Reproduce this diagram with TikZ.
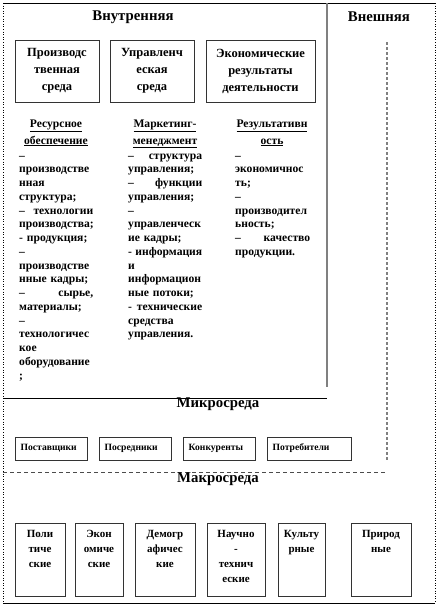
\documentclass[tikz,border=0pt]{standalone}
\usepackage{fontspec}
\setmainfont{Liberation Serif}
\hyphenpenalty=10000
\exhyphenpenalty=10000
\begin{document}
\begin{tikzpicture}[x=1pt,y=-1pt,
  box/.style={draw=black!80, line width=1pt, inner sep=0pt},
  bigtitle/.style={font=\bfseries\fontsize{14.8}{17}\selectfont, inner sep=0pt},
  toplbl/.style={font=\bfseries\fontsize{12.5}{17}\selectfont, align=center},
  hd/.style={font=\bfseries\fontsize{11.6}{17}\selectfont, inner sep=0pt, anchor=base},
  body/.style={font=\bfseries\fontsize{11.6}{13.75}\selectfont, inner sep=0pt, anchor=north west, align=left},
  microlbl/.style={font=\bfseries\fontsize{9.6}{12}\selectfont, inner sep=0pt},
  macrolbl/.style={font=\bfseries\fontsize{11}{15}\selectfont, inner sep=0pt, align=center, anchor=north},
  frame/.style={line width=0.6pt},
  dotframe/.style={line width=0.6pt, dotted},
]
\useasboundingbox (0,0) rectangle (438,606);

% outer frame
\coordinate (tl) at (3,3);
\coordinate (tr) at (435,3);
\coordinate (bl) at (3,603);
\coordinate (br) at (435,603);
\draw[frame] (tl) -- (tr);
\draw[frame] (bl) -- (br);
\draw[dotframe] (tl) -- (bl);
\draw[dotframe] (tr) -- (br);

% separators
\coordinate (gv1) at (327,3);
\coordinate (gv2) at (327,387);
\draw[line width=2pt, black!50] (gv1) -- (gv2);
\coordinate (h1a) at (3,398);
\coordinate (h1b) at (327,398);
\draw[line width=0.9pt] (h1a) -- (h1b);
\coordinate (dv1) at (387,42);
\coordinate (dv2) at (387,460);
\draw[line width=1.3pt, black!50, dash pattern=on 3pt off 2pt] (dv1) -- (dv2);
\coordinate (dh1) at (3,472);
\coordinate (dh2) at (385,472);
\draw[line width=0.8pt, black!70, dash pattern=on 4pt off 3pt] (dh1) -- (dh2);

% titles
\node[bigtitle] (tin) at (133,17) {Внутренняя};
\node[bigtitle] (tout) at (379,17) {Внешняя};
\node[bigtitle] (tmicro) at (218,404) {Микросреда};
\node[bigtitle] (tmacro) at (218,479) {Макросреда};

% top boxes
\node[box, toplbl, minimum width=84pt, minimum height=62pt] (b1) at (57,71) {Производс\\твенная\\среда};
\node[box, toplbl, minimum width=84pt, minimum height=62pt] (b2) at (152,71) {Управленч\\еская\\среда};
\node[box, toplbl, minimum width=109pt, minimum height=62pt] (b3) at (260.5,71) {Экономические\\результаты\\деятельности};

% column 1
\node[hd] (c1h1) at (56,127) {\underline{Ресурсное}};
\node[hd] (c1h2) at (56,144) {\underline{обеспечение}};
\node[body, text width=74pt] (c1) at (19,149.4) {\strut–\\
производстве\\
нная\\
структура;\\
–\hfill технологии\\
производства;\\
- продукция;\\
–\\
производстве\\
нные кадры;\\
–\hfill сырье,\\
материалы;\\
–\\
технологичес\\
кое\\
оборудование\\
;};

% column 2
\node[hd] (c2h1) at (165,127) {\underline{Маркетинг-}};
\node[hd] (c2h2) at (165,144) {\underline{менеджмент}};
\node[body, text width=74pt] (c2) at (128,149.4) {\strut–\hfill структура\\
управления;\\
–\hfill функции\\
управления;\\
–\\
управленческ\\
ие кадры;\\
-\hfill информация\\
и\\
информацион\\
ные потоки;\\
-\hfill технические\\
средства\\
управления.};

% column 3
\node[hd] (c3h1) at (272,127) {\underline{Результативн}};
\node[hd] (c3h2) at (272,144) {\underline{ость}};
\node[body, text width=75pt] (c3) at (235,149.4) {\strut–\\
экономичнос\\
ть;\\
–\\
производител\\
ьность;\\
–\hfill качество\\
продукции.};

% micro boxes
\node[box, minimum width=72pt, minimum height=23pt] (m1) at (51,448.5) {};
\node[box, minimum width=72pt, minimum height=23pt] (m2) at (135,448.5) {};
\node[box, minimum width=72pt, minimum height=23pt] (m3) at (219,448.5) {};
\node[box, minimum width=84pt, minimum height=23pt] (m4) at (309,448.5) {};
\node[microlbl, anchor=west] at ([xshift=6pt]m1.west) {Поставщики};
\node[microlbl, anchor=west] at ([xshift=6pt]m2.west) {Посредники};
\node[microlbl, anchor=west] at ([xshift=6pt]m3.west) {Конкуренты};
\node[microlbl, anchor=west] at ([xshift=6pt]m4.west) {Потребители};

% macro boxes
\node[box, minimum width=50pt, minimum height=73pt] (k1) at (40,559.5) {};
\node[box, minimum width=48pt, minimum height=73pt] (k2) at (99,559.5) {};
\node[box, minimum width=60pt, minimum height=73pt] (k3) at (165,559.5) {};
\node[box, minimum width=58pt, minimum height=73pt] (k4) at (236,559.5) {};
\node[box, minimum width=47pt, minimum height=73pt] (k5) at (301.5,559.5) {};
\node[box, minimum width=60pt, minimum height=73pt] (k6) at (381,559.5) {};
\node[macrolbl] at ([yshift=-4pt]k1.north) {\strut Поли\\тиче\\ские};
\node[macrolbl] at ([yshift=-4pt]k2.north) {\strut Экон\\омиче\\ские};
\node[macrolbl] at ([yshift=-4pt]k3.north) {\strut Демогр\\афичес\\кие};
\node[macrolbl] at ([yshift=-4pt]k4.north) {\strut Научно\\-\\технич\\еские};
\node[macrolbl] at ([yshift=-4pt]k5.north) {\strut Культу\\рные};
\node[macrolbl] at ([yshift=-4pt]k6.north) {\strut Природ\\ные};
\end{tikzpicture}
\end{document}
